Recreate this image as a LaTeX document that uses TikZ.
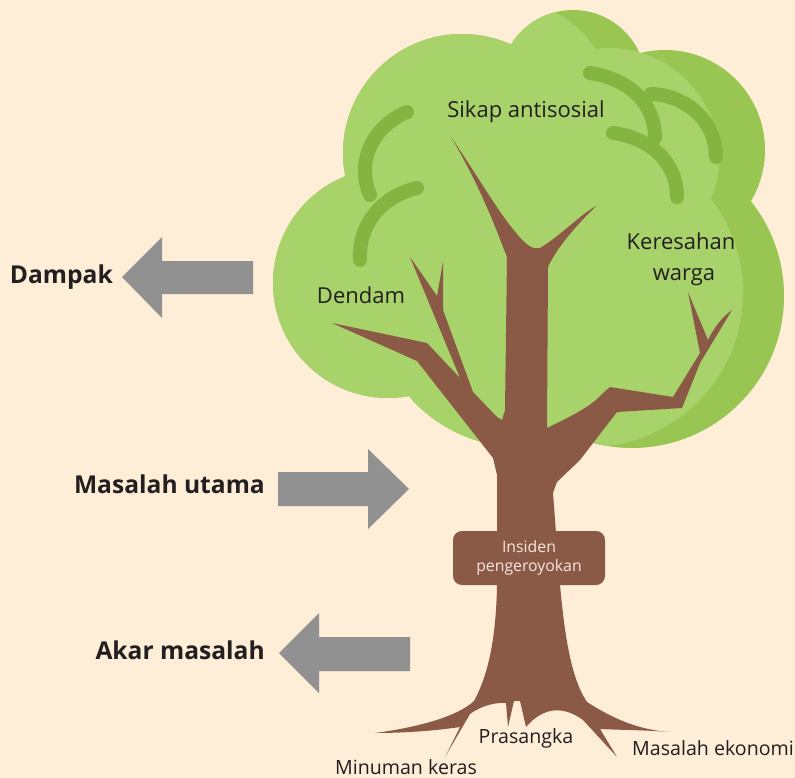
\documentclass[tikz,border=0pt]{standalone}
\usepackage{fontspec}
\setmainfont{Open Sans}
\definecolor{cream}{HTML}{FEEDD7}
\definecolor{leaflight}{HTML}{A8D26A}
\definecolor{leafdark}{HTML}{99C652}
\definecolor{twigcol}{HTML}{84B541}
\definecolor{bark}{HTML}{8B5A47}
\definecolor{arrowgray}{HTML}{929191}
\definecolor{ink}{HTML}{231F20}
\definecolor{boxtext}{HTML}{F7E6DC}
\tikzset{
  sidelabel/.style={font=\fontsize{24.6}{29}\selectfont\bfseries, text=ink, inner sep=0pt, anchor=base east},
  leaflabel/.style={font=\fontsize{22}{26}\selectfont, text=ink, inner sep=0pt, anchor=base},
  rootlabel/.style={font=\fontsize{19.6}{23}\selectfont, text=ink, inner sep=0pt, anchor=base},
  twig/.style={draw=twigcol, line width=14pt, line cap=round},
  pointer/.style={fill=arrowgray},
  trunkbox/.style={fill=bark, rounded corners=9pt, minimum width=152pt, minimum height=54pt,
    inner sep=0pt, align=center, text=boxtext, font=\fontsize{15.8}{18.7}\selectfont},
}
\begin{document}
\begin{tikzpicture}[x=1pt,y=-1pt]
\useasboundingbox (0,0) rectangle (795,778);
\fill[cream] (0,0) rectangle (795,778);

% crown: dark outline of all lobes, light lobes clipped inside
\begin{scope}
  \fill[leafdark] (573,83) circle[radius=73pt] (665,150) circle[radius=100pt]
    (632,296) circle[radius=152pt] (388,283) circle[radius=115pt]
    (462,153) circle[radius=119pt] (520,300) circle[radius=147pt];
  \clip (573,83) circle[radius=73pt] (665,150) circle[radius=100pt]
    (632,296) circle[radius=152pt] (388,283) circle[radius=115pt]
    (462,153) circle[radius=119pt] (520,300) circle[radius=147pt];
  \fill[leaflight] (388,283) circle[radius=115pt] (462,153) circle[radius=119pt]
    (520,300) circle[radius=147pt] (511,101) circle[radius=99pt]
    (609,158) circle[radius=110pt] (589,293) circle[radius=154pt];
\end{scope}

% leaf strokes
\draw[twig] (407,112) .. controls (375,125) and (355,160) .. (370,195);
\draw[twig] (417,188) .. controls (385,195) and (358,222) .. (360,260);
\draw[twig] (590,73) .. controls (625,78) and (655,100) .. (655,138);
\draw[twig] (613,133) .. controls (640,136) and (677,155) .. (677,197);
\draw[twig] (651,94) .. controls (685,95) and (716,120) .. (716,157);

% trunk, branches and roots
\fill[bark] (375,733)
  .. controls (420,727) and (458,716) .. (474,701)
  .. controls (488,675) and (496,640) .. (497,585)
  -- (497,475) -- (493,458) -- (417,361) -- (332,323)
  -- (427,343) -- (460,378)
  -- (410,257) -- (437,296) -- (443,262) -- (443,310)
  -- (473,392) -- (497,417) -- (502,420) -- (505,410) -- (507,257)
  -- (503,247) .. controls (490,212) and (472,172) .. (451,137)
  .. controls (475,172) and (500,215) .. (517,234)
  .. controls (526,245) and (533,250) .. (540,248)
  .. controls (560,236) and (580,215) .. (596,206)
  .. controls (580,222) and (558,245) .. (548,267)
  -- (547,428)
  .. controls (567,418) and (590,408) .. (603,393) -- (610,387)
  -- (673,397) -- (700,353) -- (688,292) -- (708,340)
  .. controls (714,328) and (721,318) .. (732,310)
  -- (700,363) -- (682,408) -- (617,412) -- (580,460) -- (557,482) -- (553,493)
  -- (560,585)
  .. controls (565,640) and (572,680) .. (587,702)
  .. controls (615,720) and (640,730) .. (670,732)
  .. controls (645,730) and (620,730) .. (600,729)
  -- (617,757) -- (583,720)
  .. controls (565,707) and (545,705) .. (526,727)
  -- (520,701) -- (514,701) -- (508,727) -- (506,703)
  .. controls (492,702) and (478,708) .. (470,714)
  -- (445,757) -- (460,727)
  .. controls (440,730) and (410,733) .. (375,733) -- cycle;

\node[trunkbox] (insiden) at (529,558) {Insiden\\pengeroyokan};

% labels in the crown and at the roots
\node[leaflabel] (sikap) at (526,118) {Sikap antisosial};
\node[leaflabel] (dendam) at (361,303) {Dendam};
\node[leaflabel] (keresahan) at (681,250) {Keresahan};
\node[leaflabel] (warga) at (684,280) {warga};
\node[rootlabel] (prasangka) at (526,743) {Prasangka};
\node[rootlabel] (minuman) at (406,774) {Minuman keras};
\node[rootlabel, anchor=base west] (ekonomi) at (632,755) {Masalah ekonomi};

% side labels with their block arrows
\node[sidelabel] (dampak) at (113,283) {Dampak};
\node[sidelabel] (utama) at (265,493) {Masalah utama};
\node[sidelabel] (akar) at (265,659) {Akar masalah};
\fill[pointer] (122,277) -- (162,237) -- (162,261) -- (253,261) -- (253,294)
  -- (162,294) -- (162,318) -- cycle;
\fill[pointer] (409,489) -- (368,449) -- (368,472) -- (278,472) -- (278,506)
  -- (368,506) -- (368,529) -- cycle;
\fill[pointer] (279,653) -- (319,613) -- (319,637) -- (410,637) -- (410,671)
  -- (319,671) -- (319,693) -- cycle;
\end{tikzpicture}
\end{document}
